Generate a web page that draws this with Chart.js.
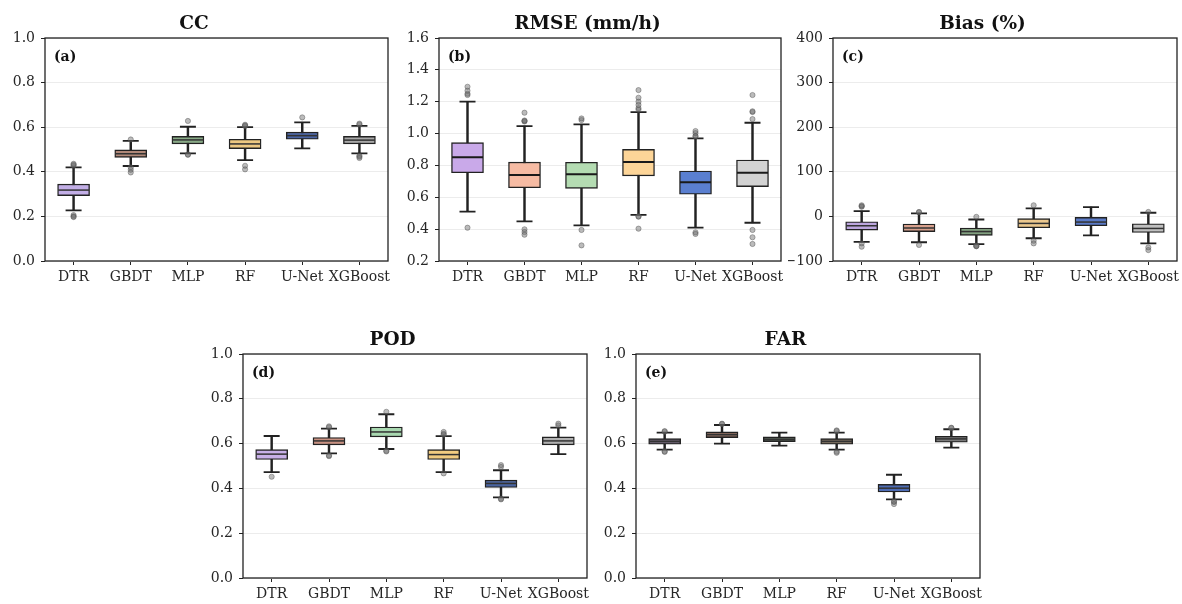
<!DOCTYPE html>
<html><head><meta charset="utf-8">
<script src="https://cdn.jsdelivr.net/npm/chart.js@4.4.1/dist/chart.umd.min.js"></script>
<style>
html,body{margin:0;padding:0;background:#fff;overflow:hidden;width:1182px;height:604px;position:relative}
canvas{position:absolute}
</style></head><body>
<script>
// ---------- data ----------
const categories = ['DTR','GBDT','MLP','RF','U-Net','XGBoost'];

// (a) CC
const ccQ1  = [0.293, 0.465, 0.525, 0.504, 0.546, 0.525];
const ccMed = [0.318, 0.481, 0.543, 0.525, 0.562, 0.542];
const ccQ3  = [0.345, 0.498, 0.559, 0.546, 0.578, 0.559];
const ccLow = [0.227, 0.426, 0.483, 0.452, 0.505, 0.483];
const ccHigh= [0.420, 0.539, 0.602, 0.600, 0.622, 0.606];
const ccOut = [[0.428,0.432,0.436,0.206,0.200,0.197],[0.545,0.420,0.409,0.397],[0.628,0.478,0.476],[0.605,0.608,0.611,0.427,0.411],[0.644],[0.612,0.616,0.472,0.468,0.462]];
const ccTicks = [0,0.2,0.4,0.6,0.8,1.0];
const ccTickLabels = ['0.0','0.2','0.4','0.6','0.8','1.0'];

// (b) RMSE
const rmseQ1  = [0.754, 0.660, 0.656, 0.734, 0.619, 0.667];
const rmseMed = [0.851, 0.740, 0.744, 0.821, 0.694, 0.754];
const rmseQ3  = [0.943, 0.821, 0.820, 0.901, 0.765, 0.834];
const rmseLow = [0.510, 0.449, 0.424, 0.489, 0.409, 0.440];
const rmseHigh= [1.200, 1.047, 1.058, 1.135, 0.970, 1.068];
const rmseOut = [[1.242,1.250,1.269,1.294,0.409],[1.076,1.079,1.082,1.131,0.399,0.382,0.365],[1.085,1.095,0.395,0.298],[1.150,1.160,1.180,1.200,1.225,1.273,0.478,0.481,0.403],[0.982,0.985,1.003,1.016,0.380,0.370],[1.091,1.135,1.140,1.242,0.395,0.349,0.307]];
const rmseTicks = [0.2,0.4,0.6,0.8,1.0,1.2,1.4,1.6];
const rmseTickLabels = ['0.2','0.4','0.6','0.8','1.0','1.2','1.4','1.6'];

// (c) Bias (%)
const biasQ1  = [-30.6, -34, -42.6, -25.4, -21, -36];
const biasMed = [-21, -26, -34, -15.7, -12.7, -27];
const biasQ3  = [-12, -17, -26, -5, -2.2, -16.4];
const biasLow = [-57, -58, -62, -49, -42.6, -60.5];
const biasHigh= [12, 7, -7, 18, 21, 8.2];
const biasOut = [[21.7,23,25,-60.5,-68],[9,10,-64],[-1,-65.5,-66.5,-67],[25,-54.6,-60.5],[],[10,-69.5,-75.5]];
const biasTicks = [-100,0,100,200,300,400];
const biasTickLabels = ['\u2212100','0','100','200','300','400'];

// (d) POD
const podQ1  = [0.529, 0.594, 0.630, 0.529, 0.404, 0.594];
const podMed = [0.553, 0.612, 0.652, 0.551, 0.422, 0.612];
const podQ3  = [0.573, 0.627, 0.674, 0.573, 0.437, 0.630];
const podLow = [0.473, 0.556, 0.576, 0.473, 0.360, 0.553];
const podHigh= [0.634, 0.667, 0.731, 0.633, 0.481, 0.671];
const podOut = [[0.452],[0.673,0.677,0.547,0.544],[0.742,0.568,0.565],[0.640,0.644,0.652,0.467],[0.496,0.504,0.354,0.351],[0.681,0.689]];

// (e) FAR
const farQ1  = [0.597, 0.627, 0.609, 0.597, 0.384, 0.606];
const farMed = [0.610, 0.640, 0.619, 0.610, 0.401, 0.621];
const farQ3  = [0.622, 0.652, 0.630, 0.622, 0.418, 0.633];
const farLow = [0.573, 0.600, 0.591, 0.573, 0.351, 0.582];
const farHigh= [0.649, 0.683, 0.649, 0.649, 0.461, 0.664];
const farOut = [[0.653,0.656,0.566,0.563],[0.687,0.689],[],[0.656,0.659,0.564,0.559],[0.342,0.339,0.330],[0.669,0.671]];
const unitTicks = [0,0.2,0.4,0.6,0.8,1.0];
const unitTickLabels = ['0.0','0.2','0.4','0.6','0.8','1.0'];

// ---------- styles ----------
const fillsA = ['#c2aee6','#b08878','#88aa86','#ecc882','#4a64a4','#a8a8a8'];
const fillsB = ['#c9a9e9','#f6bba3','#b4dcb2','#fdd598','#5a7fd0','#d2d2d2'];
const fillsC = ['#bca6de','#d8a08c','#82a080','#ecc88e','#5a7ac6','#c0c0c0'];
const fillsD = ['#c8b0e8','#c89080','#a8d8b0','#f2cc80','#4a64a0','#b0b0b0'];
const fillsE = ['#6a6070','#8a6a5e','#5a665a','#7e7262','#4e6cb4','#7a7a7a'];

Chart.defaults.font.family = '"DejaVu Serif", serif';

const panels = [
  {title:'CC', label:'(a)', left:45, top:38, w:343, h:223, min:0, max:1, ticks:ccTicks, tickLabels:ccTickLabels,
   q1:ccQ1, med:ccMed, q3:ccQ3, lo:ccLow, hi:ccHigh, out:ccOut, fills:fillsA, medColor:'#333', medWidth:1.5},
  {title:'RMSE (mm/h)', label:'(b)', left:439, top:38, w:342, h:223, min:0.2, max:1.6, ticks:rmseTicks, tickLabels:rmseTickLabels,
   q1:rmseQ1, med:rmseMed, q3:rmseQ3, lo:rmseLow, hi:rmseHigh, out:rmseOut, fills:fillsB, medColor:'#1a1a1a', medWidth:2},
  {title:'Bias (%)', label:'(c)', left:833, top:38, w:344, h:223, min:-100, max:400, ticks:biasTicks, tickLabels:biasTickLabels,
   q1:biasQ1, med:biasMed, q3:biasQ3, lo:biasLow, hi:biasHigh, out:biasOut, fills:fillsC, medColor:'#333', medWidth:1.5},
  {title:'POD', label:'(d)', left:243, top:354, w:344, h:224, min:0, max:1, ticks:unitTicks, tickLabels:unitTickLabels,
   q1:podQ1, med:podMed, q3:podQ3, lo:podLow, hi:podHigh, out:podOut, fills:fillsD, medColor:'#333', medWidth:1.5},
  {title:'FAR', label:'(e)', left:636, top:354, w:344, h:224, min:0, max:1, ticks:unitTicks, tickLabels:unitTickLabels,
   q1:farQ1, med:farMed, q3:farQ3, lo:farLow, hi:farHigh, out:farOut, fills:fillsE, medColor:'#333', medWidth:1.5}
];

const framePlugin = label => ({
  id:'frame',
  afterDraw(chart){
    const {ctx, chartArea:a} = chart;
    ctx.save();
    ctx.strokeStyle = '#222';
    ctx.lineWidth = 1.3;
    ctx.strokeRect(a.left, a.top, a.right - a.left, a.bottom - a.top);
    ctx.font = 'bold 14px "DejaVu Serif"';
    ctx.fillStyle = '#111';
    ctx.textBaseline = 'middle';
    ctx.fillText(label, a.left + 9, a.top + 19);
    ctx.restore();
  }
});

function makePanel(p){
  const YW = 45, TOP = 38, XH = 40;
  const cv = document.createElement('canvas');
  const w = YW + p.w + YW, h = TOP + p.h + XH;
  cv.width = w; cv.height = h;
  cv.style.left = (p.left - YW) + 'px';
  cv.style.top = (p.top - TOP) + 'px';
  cv.style.width = w + 'px'; cv.style.height = h + 'px';
  document.body.appendChild(cv);

  const boxData = categories.map((c,i) => [p.q1[i], p.q3[i]]);
  const whiskerData = categories.map((c,i) => [p.lo[i], p.hi[i]]);
  const medianData = categories.map((c,i) => ({x:c, y:p.med[i]}));
  const capData = categories.flatMap((c,i) => [{x:c, y:p.lo[i]}, {x:c, y:p.hi[i]}]);
  const outData = categories.flatMap((c,i) => p.out[i].map(v => ({x:c, y:v})));
  const tickFont = {family:'"DejaVu Serif", serif', size:14};

  new Chart(cv, {
    type:'bar',
    data:{labels:categories, datasets:[
      {type:'line', data:outData, showLine:false, pointStyle:'circle', pointRadius:2.6,
       pointBackgroundColor:'rgba(105,105,105,0.45)', pointBorderColor:'rgba(80,80,80,0.55)', pointBorderWidth:0.8, order:1},
      {type:'line', data:capData, showLine:false, pointStyle:'line', pointRadius:8,
       pointBorderColor:'#222', pointBorderWidth:1.8, order:2},
      {type:'line', data:medianData, showLine:false, pointStyle:'line', pointRadius:15.5,
       pointBorderColor:p.medColor, pointBorderWidth:p.medWidth, order:3},
      {type:'bar', data:boxData, backgroundColor:p.fills, borderColor:'#222', borderWidth:1.4,
       borderSkipped:false, barThickness:32, grouped:false, order:4},
      {type:'bar', data:whiskerData, backgroundColor:'#222', borderWidth:0, barThickness:1.8, grouped:false, order:5}
    ]},
    options:{
      responsive:false, animation:false, devicePixelRatio:1, events:[],
      layout:{padding:{left:0, right:YW, top:0, bottom:0}},
      plugins:{
        legend:{display:false}, tooltip:{enabled:false},
        title:{display:true, text:p.title, color:'#111',
          font:{family:'"DejaVu Serif", serif', size:18.5, weight:'bold', lineHeight:1.2},
          padding:{top:13, bottom:2.8}}
      },
      scales:{
        x:{type:'category', offset:true,
           grid:{display:true, drawOnChartArea:false, drawTicks:true, tickLength:4, tickColor:'#222', offset:false},
           border:{display:false},
           ticks:{font:tickFont, color:'#262626', padding:4, maxRotation:0, minRotation:0, autoSkip:false},
           afterFit:s => { s.height = XH; s.paddingLeft = 0; s.paddingRight = 0; }},
        y:{type:'linear', min:p.min, max:p.max,
           afterBuildTicks:s => { s.ticks = p.ticks.map(v => ({value:v})); },
           ticks:{font:tickFont, color:'#262626', padding:6,
             callback:v => p.tickLabels[p.ticks.indexOf(v)]},
           grid:{color:'#ececec', lineWidth:1, tickLength:4, tickColor:'#222'},
           border:{display:false},
           afterFit:s => { s.width = YW; s.paddingTop = 0; s.paddingBottom = 0; }}
      }
    },
    plugins:[framePlugin(p.label)]
  });
}

panels.forEach(makePanel);
</script>
</body></html>
